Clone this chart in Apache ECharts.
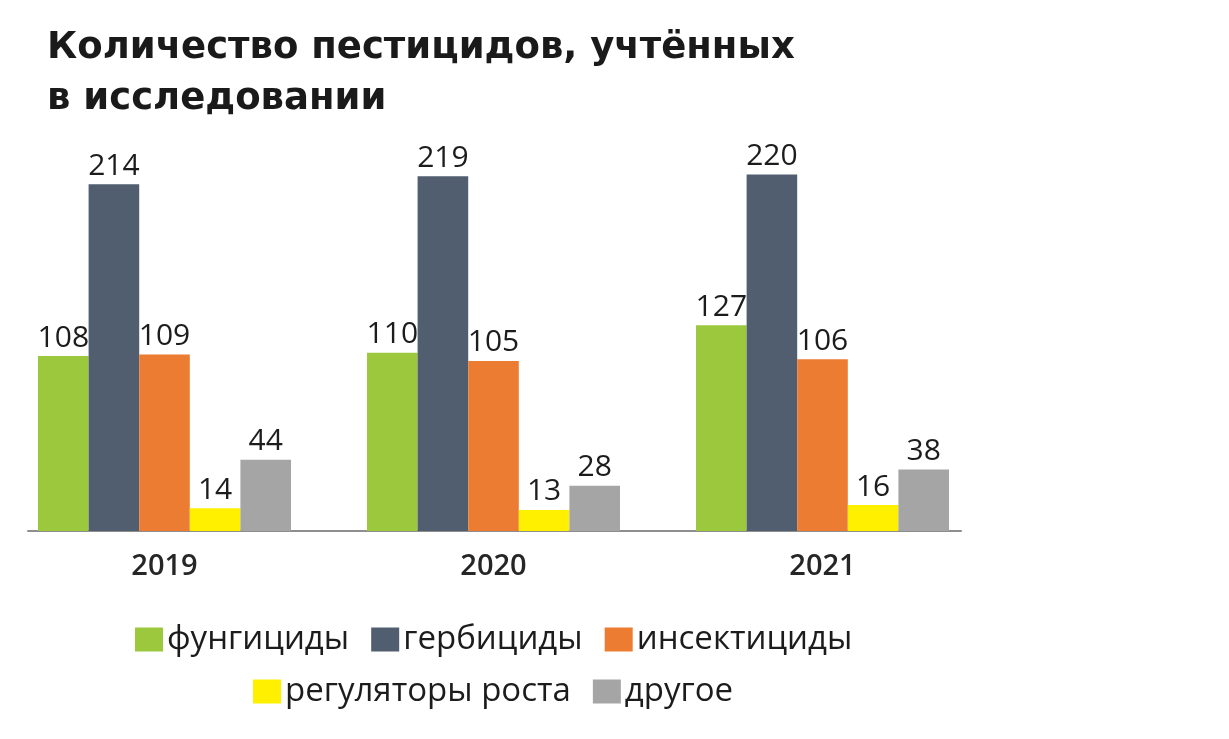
<!DOCTYPE html>
<html>
<head>
<meta charset="utf-8">
<script src="https://cdn.jsdelivr.net/npm/echarts@6/dist/echarts.min.js"></script>
<style>html,body{margin:0;padding:0;background:#fff;}#c{width:1229px;height:739px;}</style>
</head>
<body>
<div id="c"></div>
<script>
const years = ['2019', '2020', '2021'];
const seriesNames = ['фунгициды', 'гербициды', 'инсектициды', 'регуляторы роста', 'другое'];
const fungicides = [108, 110, 127];
const herbicides = [214, 219, 220];
const insecticides = [109, 105, 106];
const growthRegulators = [14, 13, 16];
const other = [44, 28, 38];
const colors = ['#9bc83c', '#505e6f', '#eb7c31', '#fff000', '#a5a5a5'];
const titleText = 'Количество пестицидов, учтённых\nв исследовании';

const values = [fungicides, herbicides, insecticides, growthRegulators, other];
const textColor = '#1c1c1c';
const font = 'Open Sans';

const chart = echarts.init(document.getElementById('c'), null, {renderer: 'canvas'});
chart.setOption({
  animation: false,
  backgroundColor: '#fff',
  title: {
    text: titleText,
    left: 42,
    top: 18,
    textStyle: {fontFamily: 'DejaVu Sans', fontWeight: 'bold', fontSize: 37, lineHeight: 51, color: '#1a1a1a'}
  },
  legend: [
    {
      data: seriesNames.slice(0, 3),
      left: 130, top: 618,
      itemWidth: 28, itemHeight: 24, itemGap: 22,
      icon: 'rect',
      textStyle: {fontFamily: font, fontSize: 33, color: textColor, padding: [0, 0, 0, -1]}
    },
    {
      data: seriesNames.slice(3),
      left: 248, top: 670,
      itemWidth: 28, itemHeight: 24, itemGap: 22,
      icon: 'rect',
      textStyle: {fontFamily: font, fontSize: 33, color: textColor, padding: [0, 0, 0, -1]}
    }
  ],
  grid: [
    {left: -1, width: 988, top: 126, height: 405},
    {left: 28, width: 933, top: 126, height: 405}
  ],
  xAxis: [
    {
      type: 'category', data: years, gridIndex: 0,
      axisLine: {show: false}, axisTick: {show: false},
      axisLabel: {margin: 21, fontFamily: font, fontWeight: 600, fontSize: 29, color: '#262626'}
    },
    {
      type: 'category', data: [''], gridIndex: 1,
      axisLine: {show: true, lineStyle: {color: '#8e8e8e', width: 2}},
      axisTick: {show: false}, axisLabel: {show: false}
    }
  ],
  yAxis: [
    {type: 'value', min: 0, max: 250, show: false, gridIndex: 0},
    {type: 'value', min: 0, max: 250, show: false, gridIndex: 1}
  ],
  series: seriesNames.map((name, i) => ({
    name: name,
    type: 'bar',
    data: values[i],
    barWidth: 50.6,
    barGap: '0%',
    itemStyle: {color: colors[i]},
    label: {show: true, position: 'top', distance: 3, fontFamily: font, fontSize: 30, color: textColor}
  }))
});
</script>
</body>
</html>
